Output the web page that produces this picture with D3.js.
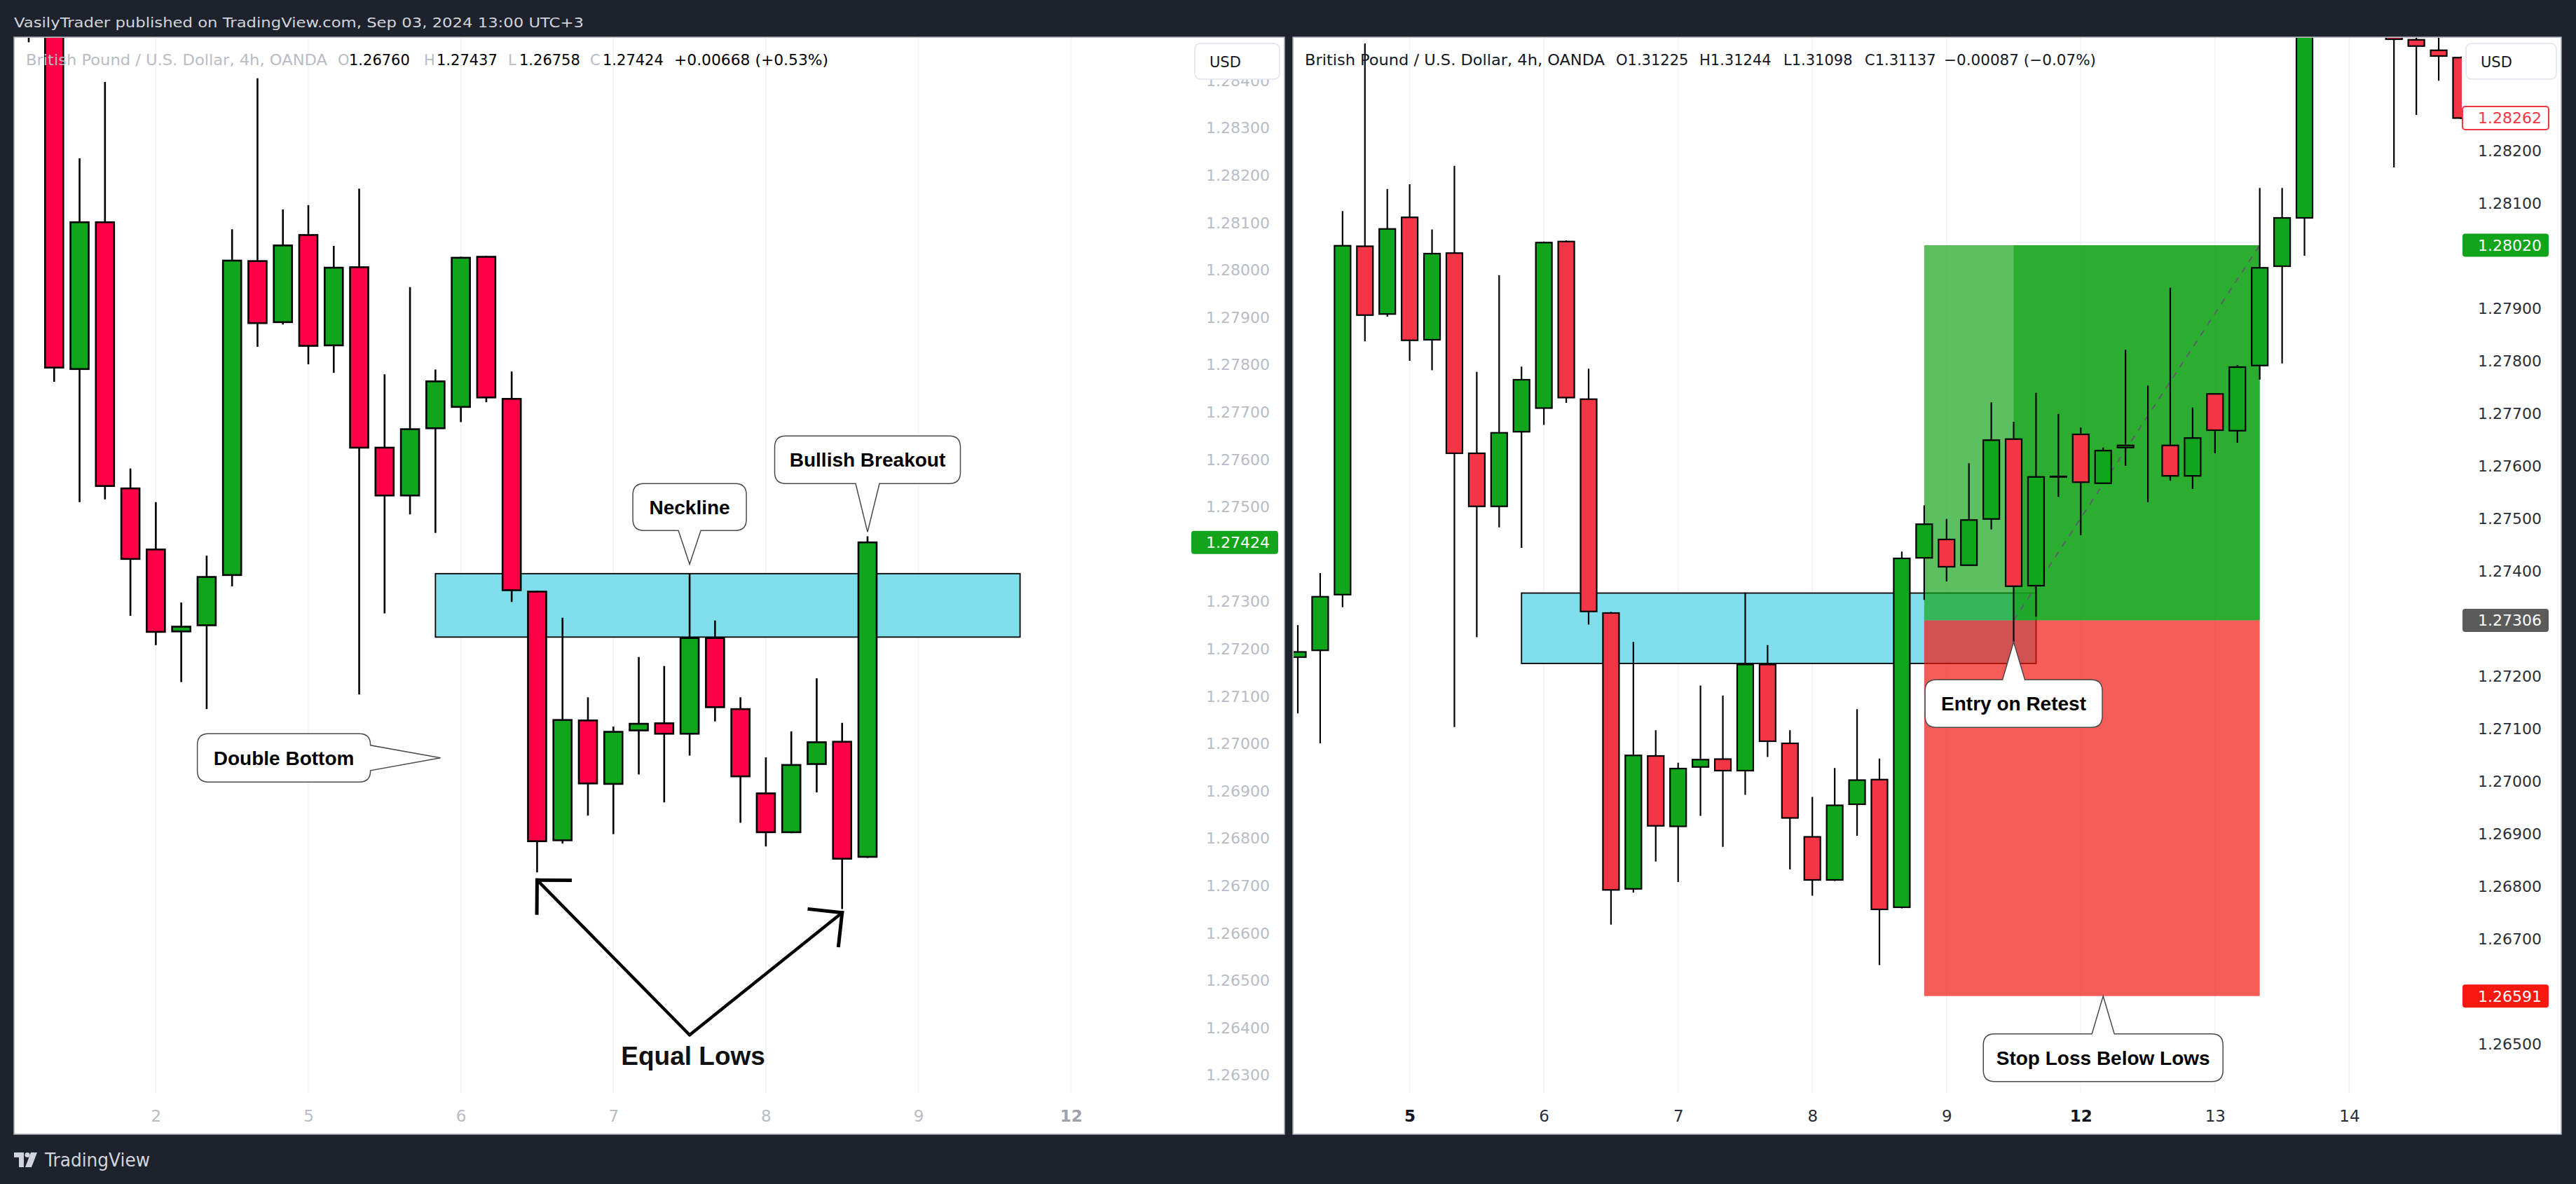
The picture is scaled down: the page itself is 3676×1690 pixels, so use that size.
<!DOCTYPE html>
<html>
<head>
<meta charset="utf-8">
<title>GBPUSD 4h – Double Bottom</title>
<script src="https://cdn.jsdelivr.net/npm/d3@7/dist/d3.min.js"></script>
<style>
html,body{margin:0;padding:0;background:#1e222d;overflow:hidden;}
svg{display:block;}
</style>
</head>
<body>
<svg id="chart" width="3676" height="1690"></svg>
<script>
// ================= DATA =================
// GBP/USD 4h OHLC (one shared series, both panels show different windows of it)
const open = [
 1.2862, 1.2856, 1.27790, 1.28100, 1.27538, 1.27409, 1.27236, 1.27249, 1.27355, 1.28018,
 1.27889, 1.28073, 1.27840, 1.28005, 1.27624, 1.27523, 1.27665, 1.27710, 1.28027, 1.27727,
 1.27320, 1.26795, 1.27048, 1.26914, 1.27027, 1.27042, 1.27020, 1.27222, 1.27072, 1.26894,
 1.26812, 1.26956, 1.27003, 1.26760, 1.27425, 1.27460, 1.27411, 1.27499, 1.27651, 1.27372,
 1.27579, 1.27660, 1.27567, 1.27635, 1.27640, 1.27639, 1.27581, 1.27737, 1.27667, 1.27791,
 1.27980, 1.28072, 1.28530, 1.28660, 1.28580, 1.28430, 1.28411, 1.28391, 1.28377];
const high = [
 1.2875, 1.2862, 1.28235, 1.28396, 1.27580, 1.27509, 1.27297, 1.27396, 1.28085, 1.28404,
 1.28127, 1.28136, 1.28050, 1.28171, 1.27779, 1.27963, 1.27789, 1.28027, 1.28029, 1.27785,
 1.27322, 1.27265, 1.27097, 1.27035, 1.27182, 1.27163, 1.27359, 1.27259, 1.27097, 1.26970,
 1.27025, 1.27137, 1.27043, 1.27437, 1.27525, 1.27499, 1.27605, 1.27721, 1.27684, 1.27739,
 1.27699, 1.27673, 1.27635, 1.27821, 1.27753, 1.27939, 1.27711, 1.27737, 1.27792, 1.28129,
 1.28129, 1.28580, 1.28710, 1.28800, 1.28690, 1.28460, 1.28450, 1.28416, 1.28379];
const low = [
 1.2848, 1.27763, 1.27509, 1.27515, 1.27269, 1.27207, 1.27129, 1.27072, 1.27331, 1.27837,
 1.27884, 1.27800, 1.27782, 1.27103, 1.27274, 1.27483, 1.27444, 1.27678, 1.27720, 1.27298,
 1.26727, 1.26788, 1.26847, 1.26808, 1.26934, 1.26875, 1.26974, 1.27046, 1.26832, 1.26782,
 1.26810, 1.26896, 1.26650, 1.26758, 1.27345, 1.27380, 1.27411, 1.27479, 1.27265, 1.27313,
 1.27541, 1.27468, 1.27567, 1.27600, 1.27531, 1.27572, 1.27556, 1.27624, 1.27644, 1.27764,
 1.27795, 1.28000, 1.28470, 1.28520, 1.28420, 1.28168, 1.28268, 1.28333, 1.28260];
const close = [
 1.2856, 1.27793, 1.28100, 1.27543, 1.27389, 1.27235, 1.27246, 1.27351, 1.28019, 1.27887,
 1.28051, 1.27839, 1.28004, 1.27624, 1.27523, 1.27663, 1.27764, 1.28025, 1.27730, 1.27323,
 1.26793, 1.27049, 1.26915, 1.27024, 1.27041, 1.27020, 1.27222, 1.27076, 1.26930, 1.26812,
 1.26954, 1.27002, 1.26756, 1.27424, 1.27489, 1.27408, 1.27497, 1.27649, 1.27371, 1.27579,
 1.27580, 1.27569, 1.27629, 1.27639, 1.27640, 1.27581, 1.27653, 1.27668, 1.27788, 1.27977,
 1.28072, 1.28530, 1.28660, 1.28580, 1.28440, 1.28412, 1.28399, 1.28380, 1.28262];

const leftFirst = 0, leftLastIdx = 33;
const rightFirst = 6, rightLastIdx = 58;

const leftTimeTicks  = [5, 11, 17, 23, 29, 35, 41];
const leftTimeLabels = ["2", "5", "6", "7", "8", "9", "12"];
const leftTimeBold   = [false, false, false, false, false, false, true];
const rightTimeTicks  = [11, 17, 23, 29, 35, 41, 47, 53];
const rightTimeLabels = ["5", "6", "7", "8", "9", "12", "13", "14"];
const rightTimeBold   = [true, false, false, false, false, true, false, false];

const leftPriceTicks = [1.284, 1.283, 1.282, 1.281, 1.280, 1.279, 1.278, 1.277, 1.276, 1.275, 1.274,
  1.273, 1.272, 1.271, 1.270, 1.269, 1.268, 1.267, 1.266, 1.265, 1.264, 1.263];
const rightPriceTicks = [1.283, 1.282, 1.281, 1.280, 1.279, 1.278, 1.277, 1.276, 1.275, 1.274,
  1.273, 1.272, 1.271, 1.270, 1.269, 1.268, 1.267, 1.266, 1.265];

// neckline zone
const zoneStartIdx = 16, zoneEndIdx = 39, zoneTop = 1.27358, zoneBottom = 1.27224;
// long position tool (right panel)
const posStartIdx = 34, posEntryIdx = 38, posEndIdx = 49;
const posTarget = 1.28020, posEntry = 1.27306, posStop = 1.26591;

// price labels on axes
const leftPriceLabels  = [1.27424];
const rightPriceLabels = [1.28262, 1.28020, 1.27306, 1.26591];

// callouts
const leftCalloutText  = ["Neckline", "Bullish Breakout", "Double Bottom"];
const leftCalloutIdx   = [26, 33, 16.2];
const leftCalloutPrice = [1.27378, 1.27446, 1.26969];
const rightCalloutText  = ["Entry on Retest", "Stop Loss Below Lows"];
const rightCalloutIdx   = [38, 42];
const rightCalloutPrice = [1.27265, 1.26591];

// equal lows arrows
const arrowVertexIdx = 26, arrowVertexPrice = 1.26384;
const arrowTipIdx   = [20, 32];
const arrowTipPrice = [1.26711, 1.26642];
const equalLowsText = "Equal Lows";

const headerText = "VasilyTrader published on TradingView.com, Sep 03, 2024 13:00 UTC+3";
const leftTitleTexts  = ["British Pound / U.S. Dollar, 4h, OANDA", "O", "1.26760", "H", "1.27437", "L", "1.26758", "C", "1.27424", "+0.00668 (+0.53%)"];
const rightTitleTexts = ["British Pound / U.S. Dollar, 4h, OANDA", "O1.31225", "H1.31244", "L1.31098", "C1.31137", "\u22120.00087 (\u22120.07%)"];

// ================= LAYOUT / STYLE =================
const FONT = "'DejaVu Sans', sans-serif";
const BOLD = "'Liberation Sans', Arial, sans-serif";
const svg = d3.select("#chart");

svg.append("rect").attr("width", 3676).attr("height", 1690).attr("fill", "#1e222d");

const L = {
  box: [20, 53, 1833, 1619], chartRight: 1700,
  x: d3.scaleLinear().domain([0, 33]).range([41, 1238]),
  y: d3.scaleLinear().domain([1.263, 1.283]).range([1534, 182]),
  up: "#11a51b", down: "#ff0046", bodyW: 26, border: 2.6, wick: 2.6,
  axisText: "#b9bcc5", labelRight: 1812, boxX: 1700, boxW: 124
};
const R = {
  box: [1845, 53, 3655, 1619], chartRight: 3513,
  x: d3.scaleLinear().domain([6, 58]).range([1852, 3512]),
  y: d3.scaleLinear().domain([1.265, 1.283]).range([1490, 140]),
  up: "#11a51b", down: "#f23645", bodyW: 23, border: 2.2, wick: 2.2,
  axisText: "#2a2e39", labelRight: 3627, boxX: 3514, boxW: 123
};

// header
svg.append("text").attr("x", 20).attr("y", 39).text(headerText)
  .attr("font-family", FONT).attr("font-size", 20).attr("fill", "#d1d4dc")
  .attr("textLength", 813).attr("lengthAdjust", "spacingAndGlyphs");

function panelFrame(P, id) {
  const [x0, y0, x1, y1] = P.box;
  svg.append("rect").attr("x", x0).attr("y", y0).attr("width", x1 - x0).attr("height", y1 - y0)
    .attr("fill", "#ffffff").attr("stroke", "#a7aab3").attr("stroke-width", 1.5);
  svg.append("clipPath").attr("id", id).append("rect")
    .attr("x", x0 + 1).attr("y", y0 + 1).attr("width", P.chartRight - x0 - 1).attr("height", y1 - y0 - 2);
  return svg.append("g").attr("clip-path", `url(#${id})`);
}

function grid(g, P, ticks) {
  g.selectAll("line.grid").data(ticks).join("line").attr("class", "grid")
    .attr("x1", d => P.x(d)).attr("x2", d => P.x(d)).attr("y1", P.box[1]).attr("y2", 1560)
    .attr("stroke", "#f1f2f5").attr("stroke-width", 1.5);
}

function zone(g, P) {
  g.append("rect").attr("x", P.x(zoneStartIdx)).attr("width", P.x(zoneEndIdx) - P.x(zoneStartIdx))
    .attr("y", P.y(zoneTop)).attr("height", P.y(zoneBottom) - P.y(zoneTop))
    .attr("fill", "#80deea").attr("stroke", "#000").attr("stroke-width", 1.8);
}

function candles(g, P, i0, i1) {
  const idx = d3.range(i0, i1 + 1);
  g.append("g").selectAll("line").data(idx).join("line")
    .attr("x1", i => P.x(i)).attr("x2", i => P.x(i))
    .attr("y1", i => P.y(high[i])).attr("y2", i => P.y(low[i]))
    .attr("stroke", "#000").attr("stroke-width", P.wick);
  g.append("g").selectAll("rect").data(idx).join("rect")
    .attr("x", i => P.x(i) - P.bodyW / 2).attr("width", P.bodyW)
    .attr("y", i => P.y(Math.max(open[i], close[i])))
    .attr("height", i => Math.abs(P.y(open[i]) - P.y(close[i])))
    .attr("fill", i => close[i] >= open[i] ? P.up : P.down)
    .attr("stroke", "#000").attr("stroke-width", P.border);
}

function calloutPath(x0, y0, x1, y1, r, side, b1, b2, tx, ty) {
  let p = `M${x0 + r},${y0}`;
  if (side === "top") p += `H${b1}L${tx},${ty}L${b2},${y0}`;
  p += `H${x1 - r}Q${x1},${y0} ${x1},${y0 + r}`;
  if (side === "right") p += `V${b1}L${tx},${ty}L${x1},${b2}`;
  p += `V${y1 - r}Q${x1},${y1} ${x1 - r},${y1}`;
  if (side === "bottom") p += `H${b2}L${tx},${ty}L${b1},${y1}`;
  p += `H${x0 + r}Q${x0},${y1} ${x0},${y1 - r}V${y0 + r}Q${x0},${y0} ${x0 + r},${y0}Z`;
  return p;
}

function callout(g, txt, tx, ty, lay) {
  let x0, y0, x1, y1, b1, b2;
  if (lay.side === "bottom") {
    x0 = tx - lay.w / 2; x1 = tx + lay.w / 2; y1 = ty - lay.gap; y0 = y1 - lay.h;
    b1 = tx - lay.base; b2 = tx + lay.base;
  } else if (lay.side === "top") {
    x0 = tx - lay.w / 2; x1 = tx + lay.w / 2; y0 = ty + lay.gap; y1 = y0 + lay.h;
    b1 = tx - lay.base; b2 = tx + lay.base;
  } else {
    x1 = tx - lay.gap; x0 = x1 - lay.w; y0 = ty - lay.h / 2; y1 = ty + lay.h / 2;
    b1 = ty - lay.base; b2 = ty + lay.base;
  }
  g.append("path").attr("d", calloutPath(x0, y0, x1, y1, 16, lay.side, b1, b2, tx, ty))
    .attr("fill", "#fff").attr("stroke", "#4a4a4a").attr("stroke-width", 1.5);
  g.append("text").attr("x", (x0 + x1) / 2).attr("y", (y0 + y1) / 2 + 10)
    .attr("text-anchor", "middle").attr("font-family", BOLD).attr("font-weight", "bold")
    .attr("font-size", 28).attr("fill", "#000").text(txt);
}

// tick labels hidden behind a price label box are skipped (as TradingView does)
function priceAxis(P, ticks, labelPrices) {
  const shown = ticks.filter(t => labelPrices.every(lp => Math.abs(P.y(t) - P.y(lp)) > 30));
  const ax = d3.axisRight(P.y).tickValues(shown).tickFormat(d3.format(".5f")).tickSize(0).tickPadding(0);
  const ga = svg.append("g").attr("transform", `translate(${P.labelRight},0)`).call(ax);
  ga.select(".domain").remove();
  ga.attr("font-family", FONT).attr("font-size", 22);
  ga.selectAll("text").attr("text-anchor", "end").attr("x", 0).attr("dy", "0.36em").attr("fill", P.axisText);
}

function timeAxis(P, ticks, labels, bold, color, boldColor) {
  const ax = d3.axisBottom(P.x).tickValues(ticks).tickFormat((d, i) => labels[i]).tickSize(0).tickPadding(0);
  const ga = svg.append("g").attr("transform", "translate(0,1593)").call(ax);
  ga.select(".domain").remove();
  ga.attr("font-family", FONT).attr("font-size", 23);
  ga.selectAll("text").attr("y", 0).attr("dy", "0.36em")
    .attr("font-weight", (d, i) => bold[i] ? "bold" : "normal")
    .attr("fill", (d, i) => bold[i] ? boldColor : color);
}

function priceLabel(P, price, fill, stroke, textColor) {
  const yy = P.y(price);
  svg.append("rect").attr("x", P.boxX).attr("y", yy - 16.5).attr("width", P.boxW).attr("height", 33)
    .attr("rx", 4).attr("fill", fill).attr("stroke", stroke).attr("stroke-width", stroke === "none" ? 0 : 2);
  svg.append("text").attr("x", P.labelRight).attr("y", yy).attr("dy", "0.36em").attr("text-anchor", "end")
    .attr("font-family", FONT).attr("font-size", 22).attr("fill", textColor).text(d3.format(".5f")(price));
}

function usdBox(x, w) {
  svg.append("rect").attr("x", x).attr("y", 62).attr("width", w).attr("height", 51).attr("rx", 8)
    .attr("fill", "#fff").attr("stroke", "#e0e3eb").attr("stroke-width", 1.5);
  svg.append("text").attr("x", x + 21).attr("y", 96).attr("font-family", FONT).attr("font-size", 21)
    .attr("fill", "#131722").text("USD");
}

// ================= LEFT PANEL =================
const gL = panelFrame(L, "clipL");
grid(gL, L, leftTimeTicks);
zone(gL, L);
candles(gL, L, leftFirst, leftLastIdx);

// arrows to equal lows
const vx = L.x(arrowVertexIdx), vy = L.y(arrowVertexPrice);
arrowTipIdx.forEach((ti, k) => {
  const tx = L.x(ti), ty = L.y(arrowTipPrice[k]);
  gL.append("line").attr("x1", vx).attr("y1", vy).attr("x2", tx).attr("y2", ty)
    .attr("stroke", "#000").attr("stroke-width", 4.5).attr("stroke-linecap", "round");
  const ang = Math.atan2(vy - ty, vx - tx), len = 47;
  [Math.PI / 4, -Math.PI / 4].forEach(da => {
    gL.append("line").attr("x1", tx).attr("y1", ty)
      .attr("x2", tx + len * Math.cos(ang + da)).attr("y2", ty + len * Math.sin(ang + da))
      .attr("stroke", "#000").attr("stroke-width", 5).attr("stroke-linecap", "square");
  });
});
gL.append("text").attr("x", vx + 5).attr("y", vy + 43).attr("text-anchor", "middle")
  .attr("font-family", BOLD).attr("font-weight", "bold").attr("font-size", 37).attr("fill", "#111")
  .text(equalLowsText);

const leftCalloutLayout = [
  { side: "bottom", w: 162, h: 67, gap: 48, base: 16 },
  { side: "bottom", w: 265, h: 68, gap: 69, base: 17 },
  { side: "right",  w: 247, h: 69, gap: 100, base: 18 }
];
leftCalloutText.forEach((t, k) => callout(gL, t, L.x(leftCalloutIdx[k]), L.y(leftCalloutPrice[k]), leftCalloutLayout[k]));

priceAxis(L, leftPriceTicks, leftPriceLabels);
timeAxis(L, leftTimeTicks, leftTimeLabels, leftTimeBold, "#b9bcc5", "#9ea1aa");
priceLabel(L, leftPriceLabels[0], "#12a51b", "none", "#ffffff");
usdBox(1705, 121);

// left title
const leftTitleX = [37, 482, 498, 605, 623, 725, 741, 842, 860, 962];
const leftTitleFill = ["#b9bcc5", "#b9bcc5", "#000", "#b9bcc5", "#000", "#b9bcc5", "#000", "#b9bcc5", "#000", "#000"];
leftTitleTexts.forEach((t, k) => {
  const tt = svg.append("text").attr("x", leftTitleX[k]).attr("y", 93).attr("font-family", FONT)
    .attr("font-size", 21).attr("fill", leftTitleFill[k]).text(t);
  if (k === 0) tt.attr("textLength", 430).attr("lengthAdjust", "spacingAndGlyphs");
  if (k === 9) tt.attr("textLength", 220).attr("lengthAdjust", "spacingAndGlyphs");
});

// ================= RIGHT PANEL =================
const gR = panelFrame(R, "clipR");
grid(gR, R, rightTimeTicks);
zone(gR, R);

// long position tool
const profitFill = "rgba(20,163,24,0.69)", lossFill = "rgba(243,20,13,0.69)";
gR.append("rect").attr("x", R.x(posStartIdx)).attr("width", R.x(posEndIdx) - R.x(posStartIdx))
  .attr("y", R.y(posTarget)).attr("height", R.y(posEntry) - R.y(posTarget)).attr("fill", profitFill);
gR.append("rect").attr("x", R.x(posEntryIdx)).attr("width", R.x(posEndIdx) - R.x(posEntryIdx))
  .attr("y", R.y(posTarget)).attr("height", R.y(posEntry) - R.y(posTarget)).attr("fill", profitFill);
gR.append("rect").attr("x", R.x(posStartIdx)).attr("width", R.x(posEndIdx) - R.x(posStartIdx))
  .attr("y", R.y(posEntry)).attr("height", R.y(posStop) - R.y(posEntry)).attr("fill", lossFill);
gR.append("line").attr("x1", R.x(posEntryIdx)).attr("y1", R.y(posEntry))
  .attr("x2", R.x(posEndIdx)).attr("y2", R.y(posTarget))
  .attr("stroke", "#5d606b").attr("stroke-width", 2).attr("stroke-dasharray", "9,9");

candles(gR, R, rightFirst, rightLastIdx);

const rightCalloutLayout = [
  { side: "top", w: 253, h: 68, gap: 54, base: 16 },
  { side: "top", w: 342, h: 68, gap: 54, base: 16 }
];
rightCalloutText.forEach((t, k) => callout(gR, t, R.x(rightCalloutIdx[k]), R.y(rightCalloutPrice[k]), rightCalloutLayout[k]));

priceAxis(R, rightPriceTicks, rightPriceLabels);
timeAxis(R, rightTimeTicks, rightTimeLabels, rightTimeBold, "#2a2e39", "#131722");
priceLabel(R, rightPriceLabels[0], "#ffffff", "#f23645", "#f23645");
priceLabel(R, rightPriceLabels[1], "#12a51b", "none", "#ffffff");
priceLabel(R, rightPriceLabels[2], "#5b5b5b", "none", "#ffffff");
priceLabel(R, rightPriceLabels[3], "#f7190f", "none", "#ffffff");
usdBox(3519, 129);

const rightTitleX = [1862, 2306, 2425, 2545, 2661, 2774];
rightTitleTexts.forEach((t, k) => {
  const tt = svg.append("text").attr("x", rightTitleX[k]).attr("y", 93).attr("font-family", FONT)
    .attr("font-size", 21).attr("fill", "#131722").text(t);
  if (k === 0) tt.attr("textLength", 428).attr("lengthAdjust", "spacingAndGlyphs");
  if (k === 5) tt.attr("textLength", 217).attr("lengthAdjust", "spacingAndGlyphs");
});

// ================= FOOTER =================
const logo = svg.append("g").attr("fill", "#d1d4dc");
logo.append("path").attr("d", "M20,1645H34V1666H27V1652H20Z");
logo.append("circle").attr("cx", 39).attr("cy", 1648.5).attr("r", 3.6);
logo.append("path").attr("d", "M44,1645H53L45,1666H36Z");
svg.append("text").attr("x", 64).attr("y", 1665).attr("font-family", FONT).attr("font-size", 26)
  .attr("fill", "#d1d4dc").attr("textLength", 150).attr("lengthAdjust", "spacingAndGlyphs").text("TradingView");
</script>
</body>
</html>
